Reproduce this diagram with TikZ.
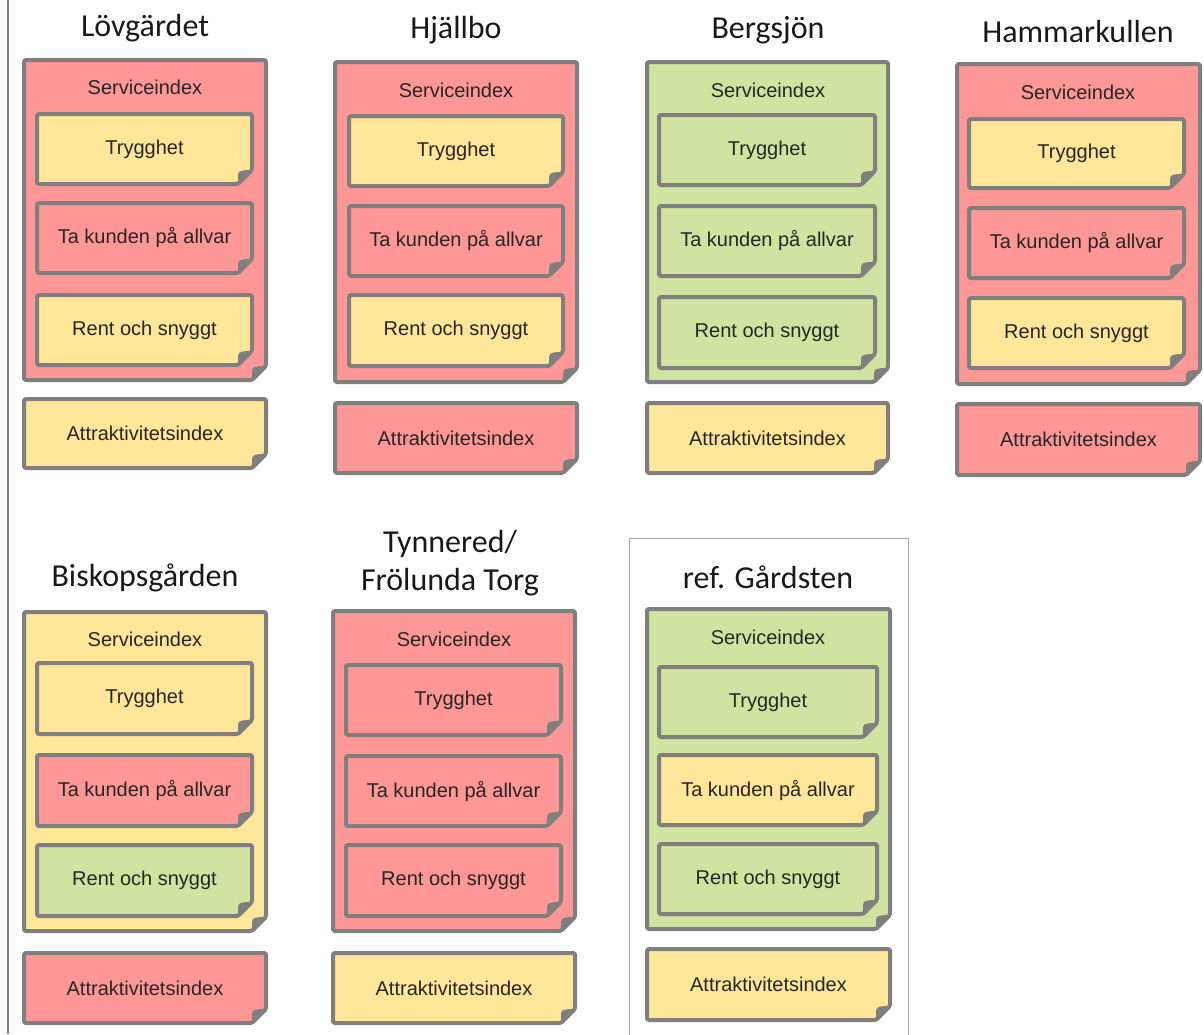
\documentclass[tikz,border=0pt]{standalone}
\usepackage{fontspec}
\setmainfont{Liberation Sans}
\newfontfamily\titlefont{Carlito}
\definecolor{rd}{HTML}{FF9797}
\definecolor{yl}{HTML}{FFE699}
\definecolor{gn}{HTML}{D0E3A0}
\definecolor{bordergray}{HTML}{7F7F7F}
\tikzset{
  notebox/.style={draw=bordergray, line width=4pt, rounded corners=1.5pt, line join=round},
  lbl/.style={font=\fontsize{20}{24}\selectfont, inner sep=0pt, text=black!85},
  ttl/.style={font=\titlefont\fontsize{32}{38}\selectfont, align=center, inner sep=0pt, text=black!90},
}
% shape only: x1 y1 x2 y2 colour
\newcommand\stickyshape[5]{%
  \path[notebox, fill=#5] (#1+2,#2+2) -- (#3-2,#2+2) -- (#3-2,#4-16) -- (#3-16,#4-2) -- (#1+2,#4-2) -- cycle;
  \fill[bordergray] (#3-2,#4-16) -- (#3-16,#4-2) -- (#3-16,#4-7) .. controls (#3-16,#4-15) .. (#3-7,#4-16) -- cycle;
}
% name x1 y1 x2 y2 colour text
\newcommand\sticky[7]{%
  \stickyshape{#2}{#3}{#4}{#5}{#6}
  \node[lbl] (#1) at ({(#2+#4)/2},{(#3+#5)/2}) {#7};
}
\begin{document}
\begin{tikzpicture}[x=1pt,y=-1pt]
\useasboundingbox (0,0) rectangle (1204,1034);
\draw[bordergray, line width=1.5pt] (8,0) -- (8,1034);
\draw[black!35, line width=1pt] (629,538) rectangle (908,1040);

% Lovgardet
\node[ttl] (t1) at (145,28) {Lövgärdet};
\stickyshape{22}{58}{268}{382}{rd}
\node[lbl] (s1) at (145,87) {Serviceindex};
\sticky{a1}{35}{112}{254}{186}{yl}{Trygghet}
\sticky{b1}{35}{201}{254}{275}{rd}{Ta kunden på allvar}
\sticky{c1}{35}{293}{254}{367}{yl}{Rent och snyggt}
\sticky{d1}{22}{397}{268}{470}{yl}{Attraktivitetsindex}

% Hjallbo
\node[ttl] (t2) at (456,30) {Hjällbo};
\stickyshape{333}{60}{579}{384}{rd}
\node[lbl] (s2) at (456,90) {Serviceindex};
\sticky{a2}{347}{114}{565}{188}{yl}{Trygghet}
\sticky{b2}{347}{204}{565}{278}{rd}{Ta kunden på allvar}
\sticky{c2}{347}{293}{565}{368}{yl}{Rent och snyggt}
\sticky{d2}{333}{401}{579}{475}{rd}{Attraktivitetsindex}

% Bergsjon
\node[ttl] (t3) at (768,30) {Bergsjön};
\stickyshape{645}{60}{890}{384}{gn}
\node[lbl] (s3) at (768,90) {Serviceindex};
\sticky{a3}{657}{113}{877}{187}{gn}{Trygghet}
\sticky{b3}{657}{204}{877}{278}{gn}{Ta kunden på allvar}
\sticky{c3}{657}{295}{877}{370}{gn}{Rent och snyggt}
\sticky{d3}{645}{401}{890}{475}{yl}{Attraktivitetsindex}

% Hammarkullen
\node[ttl] (t4) at (1078,32) {Hammarkullen};
\stickyshape{955}{62}{1202}{386}{rd}
\node[lbl] (s4) at (1078,92) {Serviceindex};
\sticky{a4}{967}{117}{1186}{190}{yl}{Trygghet}
\sticky{b4}{967}{206}{1186}{280}{rd}{Ta kunden på allvar}
\sticky{c4}{967}{296}{1186}{370}{yl}{Rent och snyggt}
\sticky{d4}{955}{402}{1202}{477}{rd}{Attraktivitetsindex}

% Biskopsgarden
\node[ttl] (t5) at (145,578) {Biskopsgården};
\stickyshape{22}{610}{268}{933}{yl}
\node[lbl] (s5) at (145,639) {Serviceindex};
\sticky{a5}{35}{661}{254}{736}{yl}{Trygghet}
\sticky{b5}{35}{753}{254}{828}{rd}{Ta kunden på allvar}
\sticky{c5}{35}{843}{254}{918}{gn}{Rent och snyggt}
\sticky{d5}{22}{951}{268}{1025}{rd}{Attraktivitetsindex}

% Tynnered
\node[ttl] (t6) at (450,563) {Tynnered/\\Frölunda Torg};
\stickyshape{331}{609}{577}{933}{rd}
\node[lbl] (s6) at (454,639) {Serviceindex};
\sticky{a6}{344}{663}{563}{737}{rd}{Trygghet}
\sticky{b6}{344}{754}{563}{828}{rd}{Ta kunden på allvar}
\sticky{c6}{344}{843}{563}{918}{rd}{Rent och snyggt}
\sticky{d6}{331}{951}{577}{1025}{yl}{Attraktivitetsindex}

% Gardsten
\node[ttl] (t7) at (768,577) {ref. Gårdsten};
\stickyshape{645}{607}{892}{931}{gn}
\node[lbl] (s7) at (768,637) {Serviceindex};
\sticky{a7}{657}{665}{879}{739}{gn}{Trygghet}
\sticky{b7}{657}{753}{879}{827}{yl}{Ta kunden på allvar}
\sticky{c7}{657}{842}{879}{916}{gn}{Rent och snyggt}
\sticky{d7}{645}{947}{892}{1022}{yl}{Attraktivitetsindex}
\end{tikzpicture}
\end{document}
